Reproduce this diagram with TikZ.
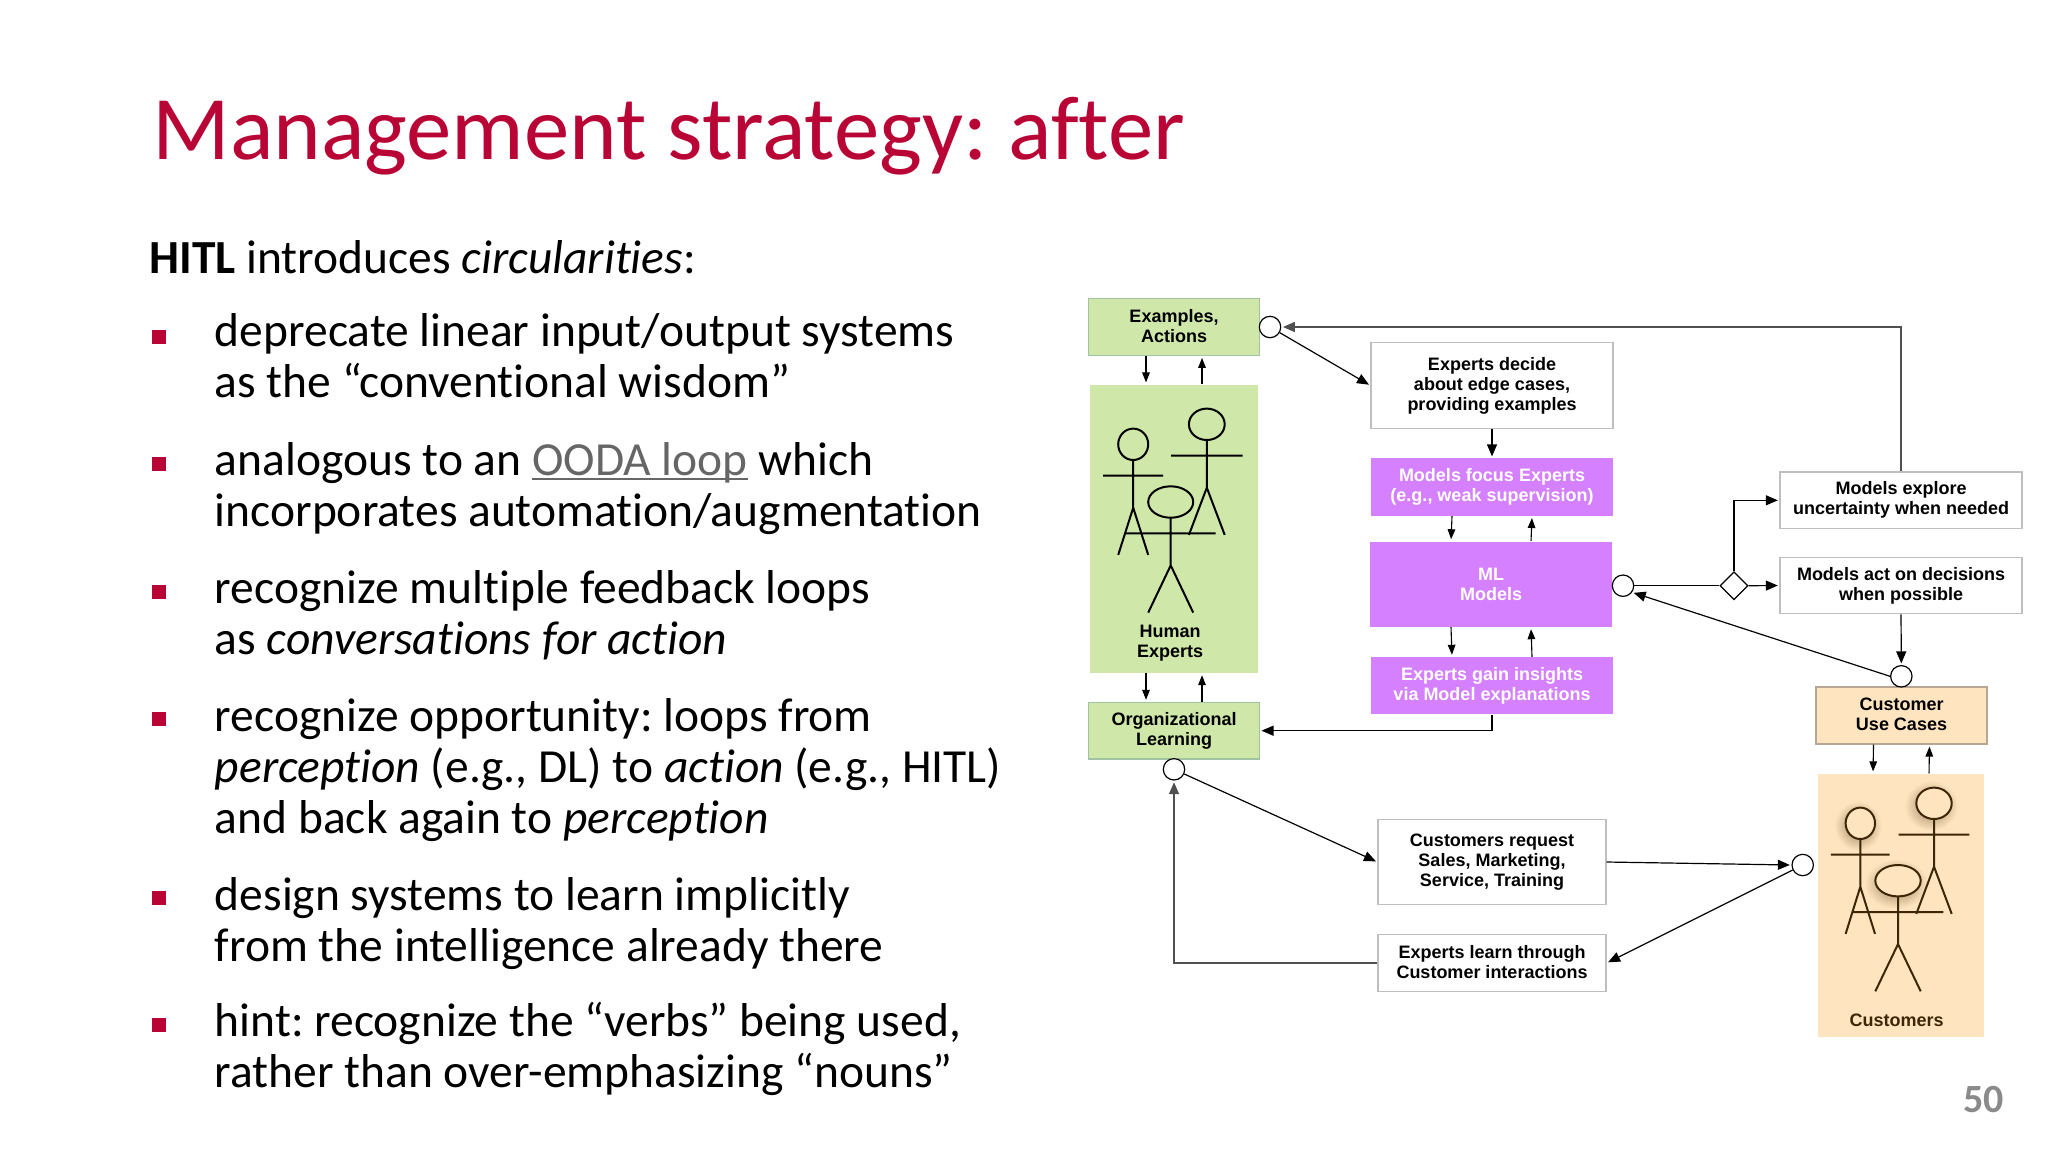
\documentclass[tikz,border=0pt]{standalone}
\usepackage{fontspec}
\setmainfont{Carlito}[Ligatures=NoCommon]
\newfontfamily\diagfont{Liberation Sans}[BoldFont={Liberation Sans Bold}]
\usetikzlibrary{arrows.meta,shapes.geometric}
\frenchspacing
\definecolor{slidered}{HTML}{B80536}
\definecolor{oodagrey}{HTML}{666666}
\definecolor{pagegrey}{HTML}{8A8A8A}
\definecolor{humangreen}{HTML}{CFE8A9}
\definecolor{modelpurple}{HTML}{D580FF}
\definecolor{custcream}{HTML}{FFE5BF}
\definecolor{custbrown}{HTML}{3D2606}
\definecolor{flowgrey}{HTML}{505050}
\newsavebox{\linkbox}
\newcommand{\linktext}[1]{\sbox{\linkbox}{#1}\textcolor{oodagrey}{\rlap{\rule[-2.6pt]{\wd\linkbox}{1pt}}#1}}
\tikzset{
  slideline/.style={anchor=base west,inner sep=0pt,align=left,font=\fontsize{23.75}{25.5}\selectfont},
  bulletmark/.style={fill=slidered,inner sep=0pt,minimum size=7pt},
  boxtext/.style={inner sep=0pt,align=center,font=\diagfont\bfseries\fontsize{9}{10}\selectfont},
  greenbox/.style={boxtext,draw=green!20!gray!60,fill=humangreen,line width=0.6pt,minimum width=85.3pt,minimum height=28.3pt},
  creambox/.style={boxtext,draw=brown!40!gray!70,fill=custcream,line width=0.6pt,minimum width=85.5pt,minimum height=28.5pt},
  purplebox/.style={boxtext,fill=modelpurple,text=white,minimum width=121pt,minimum height=28.6pt},
  whitebox/.style={boxtext,draw=black!25,line width=0.6pt,minimum width=121pt,minimum height=28.3pt},
  port/.style={circle,draw,fill=white,line width=0.6pt,inner sep=0pt,minimum size=10.7pt},
  flow/.style={line width=0.6pt,shorten >=0.8pt,-{Triangle[length=6pt,width=5pt]}},
  flowthick/.style={flow,line width=0.85pt,draw=flowgrey},
  smallflow/.style={line width=0.55pt,shorten >=1pt,-{Triangle[length=5pt,width=3.8pt]}},
}
% cx, head y, head radius x, colour
\newcommand{\stickfig}[4]{
  \draw[#4,line width=1pt,fill=none]
    (#1,#2+15.7) -- (#1,#2+63.4)
    (#1-2*#3,#2+31.4) -- (#1+2*#3,#2+31.4)
    (#1-#3,#2+110.6) -- (#1,#2+63.4) -- (#1+#3,#2+110.6);
  \draw[#4,line width=1pt] (#1,#2) ellipse ({#3} and 15.7);
}
\begin{document}
\begin{tikzpicture}[x=0.5pt,y=-0.5pt]
  \useasboundingbox (0,0) rectangle (2048,1152);

  % slide text
  \node[anchor=base west,inner sep=0pt,text=slidered,font=\fontsize{45.4}{50}\selectfont] (title) at (152,159) {Management strategy: after};
  \node[slideline] (intro) at (149,273.5) {\textbf{HITL} introduces \textit{circularities}:};
  \node[slideline] (para1) at (214.5,397) {deprecate linear input/output systems\\as the “conventional wisdom”};
  \node[slideline] (para2) at (214.5,526) {analogous to an \linktext{OODA loop} which\\incorporates automation/augmentation};
  \node[slideline] (para3) at (214.5,654) {recognize multiple feedback loops\\as \textit{conversations for action}};
  \node[slideline] (para4) at (214.5,833) {recognize opportunity: loops from\\\textit{perception} (e.g., DL) to \textit{action} (e.g., HITL)\\and back again to \textit{perception}};
  \node[slideline] (para5) at (214.5,961.5) {design systems to learn implicitly\\from the intelligence already there};
  \node[slideline] (para6) at (214.5,1087) {hint: recognize the “verbs” being used,\\rather than over-emphasizing “nouns”};
  \foreach \y [count=\i] in {337,464,591.5,719,898,1025}
    \node[bulletmark] (mark\i) at (159,\y) {};
  \node[anchor=base east,inner sep=0pt,text=pagegrey,font=\bfseries\fontsize{20}{22}\selectfont] (pagenum) at (2004,1112) {50};

  % left column
  \node[greenbox,text depth=1pt] (examples) at (1174,327) {Examples,\\Actions};
  \node[greenbox,minimum width=84pt,minimum height=143.8pt,draw=none] (human) at (1174,528.8) {};
  \node[greenbox] (org) at (1174,730.7) {Organizational\\Learning};
  \node[boxtext] (humanlbl) at (1170,643.5) {Human\\Experts};
  \stickfig{1133.2}{444.3}{15}{black}
  \stickfig{1206.8}{424.3}{17.9}{black}
  \stickfig{1170.7}{502}{22.5}{black}

  % middle column
  \node[whitebox,minimum height=42.8pt] (decide) at (1492,385.5) {Experts decide\\about edge cases,\\providing examples};
  \node[purplebox] (focus) at (1492,487) {Models focus Experts\\(e.g., weak supervision)};
  \node[purplebox,minimum height=42.6pt] (ml) at (1491,584.2) {ML\\Models};
  \node[purplebox] (gain) at (1492,685.8) {Experts gain insights\\via Model explanations};
  \node[whitebox,minimum width=114pt,minimum height=42.7pt] (request) at (1492,862) {Customers request\\Sales, Marketing,\\Service, Training};
  \node[whitebox,minimum width=114pt,text depth=1pt] (learn) at (1492,963) {Experts learn through\\Customer interactions};

  % right column
  \node[whitebox] (explore) at (1901,500.3) {Models explore\\uncertainty when needed};
  \node[whitebox] (act) at (1901,585.5) {Models act on decisions\\when possible};
  \node[creambox,text depth=1pt] (usecase) at (1901.5,715.5) {Customer\\Use Cases};
  \node[creambox,minimum width=83pt,minimum height=131.5pt,draw=none] (customers) at (1901,905.5) {};
  \node[boxtext,text=custbrown] (custlbl) at (1896.7,1020) {Customers};
  \foreach \hx/\hy/\hr in {1858/826/14.7,1931/806/17.7,1896/884/22.7}
    \shade[inner color=custbrown!55!custcream,outer color=custcream] (\hx,\hy) ellipse ({\hr+9} and 25);
  \fill[custcream] (1860.3,823.3) ellipse (14.7 and 15.7) (1934,803.3) ellipse (17.7 and 15.7) (1898,880.7) ellipse (22.7 and 15.7);
  \stickfig{1860.3}{823.3}{14.7}{custbrown}
  \stickfig{1934}{803.3}{17.7}{custbrown}
  \stickfig{1898}{880.7}{22.7}{custbrown}

  % ports
  \node[port] (portA) at (1270,327) {};
  \node[port] (portML) at (1623,585.7) {};
  \node[port] (portUse) at (1901.3,676.3) {};
  \node[port] (portOrg) at (1174,769.3) {};
  \node[port] (portCust) at (1802.7,865) {};
  \node[diamond,draw,fill=white,line width=0.6pt,inner sep=0pt,minimum size=14pt] (choice) at (1734,585.7) {};

  % connectors
  \foreach \a/\b/\s in {examples/human/14pt,human/org/14pt,focus/ml/20pt,ml/gain/20pt,usecase/customers/14pt} {
    \draw[smallflow] ([xshift=-\s]\a.south) -- ([xshift=-\s]\b.north);
    \draw[smallflow] ([xshift=\s]\b.north) -- ([xshift=\s]\a.south);
  }
  \draw[flowthick] (explore.north) |- (portA.east);
  \draw[flow] (portA) -- (decide.west);
  \draw[flow] (decide.south) -- (focus.north);
  \draw[flow] (gain.south) |- (org.east);
  \draw[line width=0.6pt] (portML) -- (choice.west);
  \draw[flow] (choice.east) -- (act.west);
  \draw[flow] (choice.north) |- (explore.west);
  \draw[flow] (act.south) -- (portUse.north);
  \draw[flow] (portUse.west) -- (portML.-36);
  \draw[flow] (portOrg) -- (request.west);
  \draw[flowthick] (learn.west) -| (portOrg.south);
  \draw[flow] (request.east) -- (portCust.west);
  \draw[flow] (portCust) -- (learn.east);
\end{tikzpicture}
\end{document}
